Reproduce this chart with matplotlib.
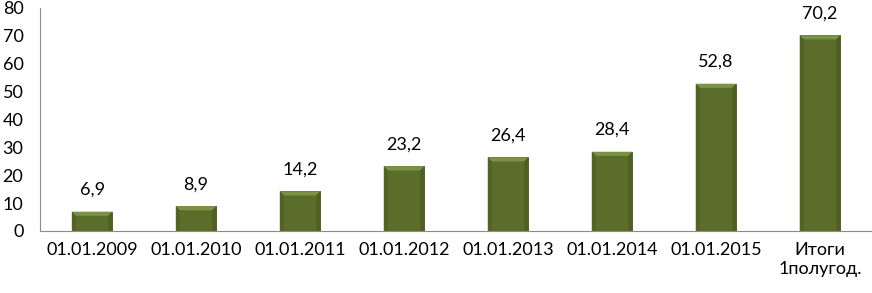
import matplotlib.pyplot as plt
from matplotlib.patches import Polygon

categories = ["01.01.2009", "01.01.2010", "01.01.2011", "01.01.2012",
              "01.01.2013", "01.01.2014", "01.01.2015", "Итоги\n1полугод."]
values = [6.9, 8.9, 14.2, 23.2, 26.4, 28.4, 52.8, 70.2]
value_labels = ["6,9", "8,9", "14,2", "23,2", "26,4", "28,4", "52,8", "70,2"]

plt.rcParams['font.family'] = ['Lato', 'DejaVu Sans']

fig = plt.figure(figsize=(8.72, 2.93), dpi=100)
ax = fig.add_axes([0.046, 0.212, 0.954, 0.761])

x = range(len(categories))
bars = ax.bar(x, values, width=0.39, color="#5a6d2a", edgecolor="#4a5a20",
              linewidth=0.6, zorder=2)

# soft bevel: lighter top band, slightly darker sides
for b in bars:
    x0, y0 = b.get_x(), b.get_y()
    w, h = b.get_width(), b.get_height()
    dx = w * 0.1
    dy = min(1.5, h * 0.3)
    top = Polygon([(x0, y0 + h), (x0 + w, y0 + h), (x0 + w - dx, y0 + h - dy),
                   (x0 + dx, y0 + h - dy)], closed=True, color="#7a9243",
                  lw=0, zorder=3)
    left = Polygon([(x0, y0), (x0, y0 + h), (x0 + dx, y0 + h - dy),
                    (x0 + dx, y0)], closed=True, color="#526424",
                   lw=0, zorder=3)
    right = Polygon([(x0 + w, y0), (x0 + w, y0 + h), (x0 + w - dx, y0 + h - dy),
                     (x0 + w - dx, y0)], closed=True, color="#4e5f22",
                    lw=0, zorder=3)
    for p in (top, left, right):
        ax.add_patch(p)

for xi, v, lab in zip(x, values, value_labels):
    ax.text(xi, v + 5, lab, ha="center", va="bottom", fontsize=13, color="black")

ax.set_xlim(-0.5, len(categories) - 0.5)
ax.set_ylim(0, 80)
ax.set_yticks(range(0, 81, 10))
ax.set_xticks(list(x))
ax.set_xticklabels(categories, fontsize=13)
ax.tick_params(axis="y", labelsize=13, length=0, pad=12)
ax.tick_params(axis="x", length=0, pad=8)

for s in ("top", "right"):
    ax.spines[s].set_visible(False)
ax.spines["left"].set_color("#8c8c8c")
ax.spines["bottom"].set_color("#8c8c8c")

fig.savefig("out.png", dpi=100)
